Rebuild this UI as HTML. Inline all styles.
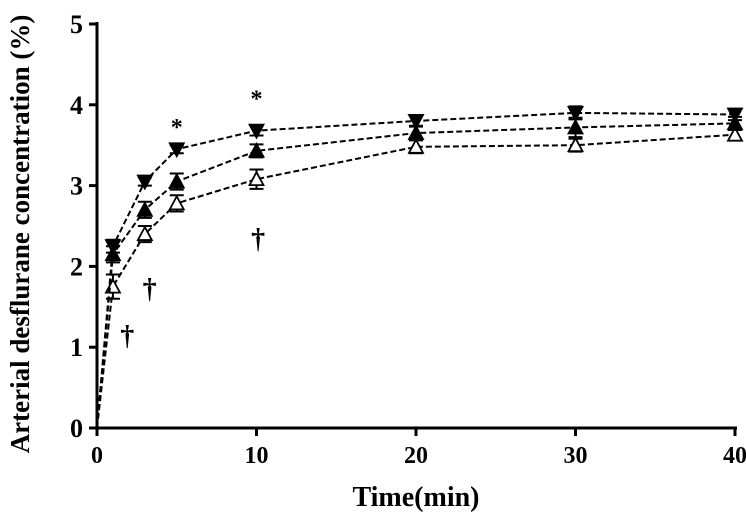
<!DOCTYPE html>
<html><head><meta charset="utf-8"><style>
body{margin:0;background:#fff}
svg text{font-family:"Liberation Serif",serif;font-weight:bold;fill:#000}
</style></head><body>
<svg id="chart" width="746" height="514" xmlns="http://www.w3.org/2000/svg"></svg>
<script>
const times=[0,1,3,5,10,20,30,40];
const seriesDown=[0,2.25,3.05,3.45,3.68,3.8,3.9,3.88];
const errDown=[0,0.08,0.05,0.05,0.06,0.06,0.08,0.07];
const seriesUp=[0,2.15,2.7,3.05,3.43,3.65,3.72,3.77];
const errUp=[0,0.1,0.1,0.1,0.08,0.08,0.12,0.08];
const seriesOpen=[0,1.75,2.4,2.78,3.08,3.48,3.5,3.63];
const errOpen=[0,0.15,0.1,0.1,0.12,0.08,0.08,0.06];
const xTicks=[0,10,20,30,40];
const yTicks=[0,1,2,3,4,5];
const stars=[[5,3.8],[10,4.15]];
const daggers=[[1.9,1.2],[3.3,1.78],[10.1,2.4]];
const NS="http://www.w3.org/2000/svg";
const svg=document.getElementById('chart');
const X=v=>97+v*15.95, Y=v=>428-v*80.8;
function el(t,a,p){const e=document.createElementNS(NS,t);for(const k in a)e.setAttribute(k,a[k]);(p||svg).appendChild(e);return e;}
const ax=el('g',{});


el('line',{x1:97,y1:Y(5)-2,x2:97,y2:430,stroke:'#000','stroke-width':3},ax);
el('line',{x1:95,y1:428,x2:X(40)+2,y2:428,stroke:'#000','stroke-width':3},ax);
yTicks.forEach(v=>{el('line',{x1:89,y1:Y(v),x2:97,y2:Y(v),stroke:'#000','stroke-width':3},ax);
 const t=el('text',{x:83,y:Y(v)+9,'text-anchor':'end','font-size':26},ax);t.textContent=v;
 });
xTicks.forEach(v=>{el('line',{x1:X(v),y1:428,x2:X(v),y2:436,stroke:'#000','stroke-width':3},ax);
 const t=el('text',{x:X(v),y:463,'text-anchor':'middle','font-size':24},ax);t.textContent=v;
 });
const xt=el('text',{x:416,y:506,'text-anchor':'middle','font-size':28});xt.textContent='Time(min)';

const yt=el('text',{x:0,y:0,'text-anchor':'middle','font-size':27,transform:'translate(29,234) rotate(-90)'});yt.textContent='Arterial desflurane concentration (%)';

function series(vals,errs,kind,name){
 const g=el('g',{});
 
 
 el('polyline',{points:times.map((t,i)=>X(t)+','+Y(vals[i])).join(' '),fill:'none',stroke:'#000','stroke-width':2,'stroke-dasharray':'6,3'},g);
 times.forEach((t,i)=>{if(t===0)return;const x=X(t),y=Y(vals[i]),e=errs[i]*80.8;
  el('path',{d:`M${x},${y-e}V${y+e}M${x-7},${y-e}H${x+7}M${x-7},${y+e}H${x+7}`,stroke:'#000','stroke-width':2,fill:'none'},g);
  let d;
  if(kind==='down')d=`M${x-7},${y-6}L${x+7},${y-6}L${x},${y+7}Z`;
  else d=`M${x-7},${y+6}L${x+7},${y+6}L${x},${y-7}Z`;
  const m=el('path',{d,fill:kind==='open'?'#fff':'#000',stroke:'#000','stroke-width':1.8},g);
  });
}
series(seriesOpen,errOpen,'open','series-open-triangle');
series(seriesUp,errUp,'up','series-filled-up-triangle');
series(seriesDown,errDown,'down','series-filled-down-triangle');
stars.forEach(s=>{const t=el('text',{x:X(s[0]),y:Y(s[1])+14,'text-anchor':'middle','font-size':24});t.textContent='*';
 });
daggers.forEach(s=>{const t=el('text',{x:X(s[0]),y:Y(s[1])+14,'text-anchor':'middle','font-size':28});t.textContent='†';
 });
</script>
</body></html>
